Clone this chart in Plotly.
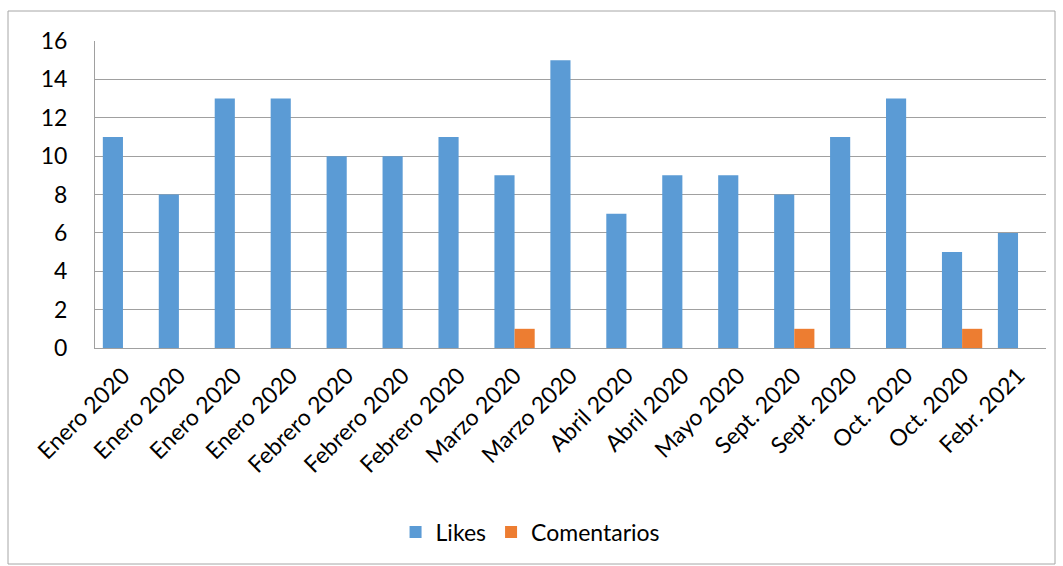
import plotly.graph_objects as go

categorias = ["Enero 2020", "Enero 2020", "Enero 2020", "Enero 2020",
              "Febrero 2020", "Febrero 2020", "Febrero 2020",
              "Marzo 2020", "Marzo 2020", "Abril 2020", "Abril 2020",
              "Mayo 2020", "Sept. 2020", "Sept. 2020", "Oct. 2020",
              "Oct. 2020", "Febr. 2021"]
likes = [11, 8, 13, 13, 10, 10, 11, 9, 15, 7, 9, 9, 8, 11, 13, 5, 6]
comentarios = [0, 0, 0, 0, 0, 0, 0, 1, 0, 0, 0, 0, 1, 0, 0, 1, 0]

W, H = 1063, 566
L, R, T, B = 95, 17, 41, 218
pw, ph = W - L - R, H - T - B

posiciones = list(range(len(categorias)))
fuente = "Lato, Open Sans, sans-serif"

fig = go.Figure()
fig.add_trace(go.Bar(x=posiciones, y=likes, name="Likes",
                     marker=dict(color="#5B9BD5", line=dict(width=0))))
fig.add_trace(go.Bar(x=posiciones, y=comentarios, name="Comentarios",
                     marker=dict(color="#ED7D31", line=dict(width=0))))

# marco exterior del gráfico
def px_x(v):
    return (v - L) / pw

def px_y(v):
    return (H - B - v) / ph

fig.add_shape(type="rect", xref="paper", yref="paper",
              x0=px_x(8), x1=px_x(1055), y0=px_y(564), y1=px_y(11),
              line=dict(color="#a6a6a6", width=1), layer="below")

fig.update_layout(
    width=W, height=H,
    margin=dict(l=L, r=R, t=T, b=B, autoexpand=False),
    paper_bgcolor="white", plot_bgcolor="white",
    barmode="group", bargap=0.28, bargroupgap=0,
    font=dict(family=fuente, size=23, color="black"),
    showlegend=True,
    legend=dict(orientation="h", x=0.458, xanchor="center",
                y=px_y(532), yanchor="middle",
                font=dict(size=23), itemwidth=30, traceorder="normal"),
    xaxis=dict(tickmode="array", tickvals=posiciones, ticktext=categorias,
               tickangle=-45, range=[-0.5, len(categorias) - 0.5],
               showline=True, linecolor="#a0a0a0", linewidth=1,
               showgrid=False, ticks="", ticklabelstandoff=4,
               tickfont=dict(size=23)),
    yaxis=dict(range=[0, 16], dtick=2, showline=True, linecolor="#a0a0a0",
               linewidth=1, showgrid=True, gridcolor="#a0a0a0", gridwidth=1,
               zeroline=False, ticks="", ticklabelstandoff=22,
               tickfont=dict(size=23)),
)

fig.write_html("out.html")
